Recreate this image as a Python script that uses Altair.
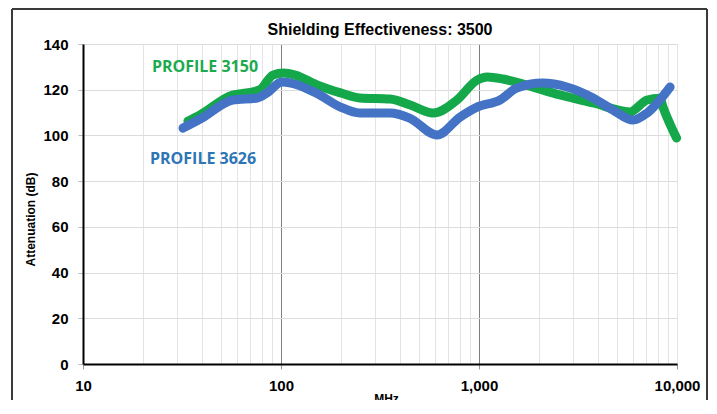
import altair as alt
import pandas as pd

# PROFILE 3150 (green)
g_freq = [33.9, 39, 57, 67, 78, 91, 103, 118, 153, 200, 250, 355, 450, 586, 774, 977, 1100, 1320, 1740, 2560, 3770, 5790, 7060, 8200, 8490, 9440, 9950]
g_db = [106.3, 109, 117.7, 118.6, 119.9, 126.4, 127.3, 126.4, 122, 118.6, 116.4, 115.9, 113.3, 109.8, 115.5, 124.2, 125.6, 124.7, 122, 117.7, 114.2, 110.3, 115.5, 116.3, 112.5, 103, 98.9]

# PROFILE 3626 (blue)
b_freq = [32, 39.9, 57, 76, 85, 101, 150, 200, 250, 355, 446, 614, 801, 977, 1277, 1550, 2100, 2780, 3770, 4750, 6000, 7060, 9230]
b_db = [103.2, 107.6, 115.5, 116.4, 118.6, 123.4, 118.6, 112.4, 109.8, 109.8, 107.6, 100.2, 108, 112.4, 115.5, 120.7, 122.9, 121.2, 116.4, 111.1, 106.7, 109.8, 121.2]

ann_label = ["PROFILE 3150", "PROFILE 3626"]
ann_freq = [41.3, 40.4]
ann_db = [129.9, 89.5]
ann_color = ["#1DAA4E", "#2E75B6"]

decades = [10, 100, 1000]
mults = [1, 2, 3, 4, 5, 6, 7, 8, 9]
x_ticks = [d * m for d in decades for m in mults] + [10000]

green = pd.DataFrame({"freq": g_freq, "db": g_db})
blue = pd.DataFrame({"freq": b_freq, "db": b_db})
ann = pd.DataFrame({"label": ann_label, "freq": ann_freq, "db": ann_db, "color": ann_color})

FONT = "Liberation Sans"

x_enc = alt.X(
    "freq:Q",
    scale=alt.Scale(type="log", domain=[10, 10000]),
    axis=alt.Axis(
        values=x_ticks,
        labelExpr="(datum.value == 10 || datum.value == 100 || datum.value == 1000 || datum.value == 10000) ? format(datum.value, ',') : ''",
        labelFont=FONT, labelFontSize=15, labelFontWeight="bold", labelColor="#000000",
        labelPadding=9, labelFlush=False, labelOverlap=False,
        domainColor="#000000", domainWidth=2,
        tickSize=5, tickColor="#999999",
        tickOpacity={"condition": {"test": "datum.value == 10 || datum.value == 100 || datum.value == 1000 || datum.value == 10000", "value": 1}, "value": 0},
        gridColor={"condition": {"test": "datum.value == 100 || datum.value == 1000", "value": "#7f7f7f"}, "value": "#e4e4e4"},
        gridWidth=1,
        title="MHz", titleFont=FONT, titleFontSize=12, titleFontWeight="bold", titleColor="#000000",
        titleX=303, titleY=29, titleBaseline="top", titleAlign="center",
    ),
)
y_enc = alt.Y(
    "db:Q",
    scale=alt.Scale(domain=[0, 140]),
    axis=alt.Axis(
        values=[0, 20, 40, 60, 80, 100, 120, 140],
        labelFont=FONT, labelFontSize=15, labelFontWeight="bold", labelColor="#000000",
        labelPadding=10,
        domainColor="#000000", domainWidth=2,
        tickSize=5, tickColor="#bbbbbb",
        gridColor="#dcdcdc", gridWidth=1,
        title="Attenuation (dB)", titleFont=FONT, titleFontSize=12, titleFontWeight="bold", titleColor="#000000",
        titleX=-53, titleY=175, titleAlign="center", titleBaseline="middle", titleAngle=270,
    ),
)

FRAME = dict(color="#3a3a3a", strokeWidth=2)
dummy = pd.DataFrame({"a": [0]})
frame_left = alt.Chart(dummy).mark_rule(**FRAME).encode(
    x=alt.value(-71), y=alt.value(-35), y2=alt.value(380))
frame_right = alt.Chart(dummy).mark_rule(**FRAME).encode(
    x=alt.value(624), y=alt.value(-35), y2=alt.value(380))
frame_top = alt.Chart(dummy).mark_rule(**FRAME).encode(
    x=alt.value(-71), x2=alt.value(624), y=alt.value(-35))

g_line = alt.Chart(green).mark_line(
    interpolate="monotone", strokeWidth=9, strokeCap="round", strokeJoin="round", color="#14A84A"
).encode(x=x_enc, y=y_enc)

b_line = alt.Chart(blue).mark_line(
    interpolate="monotone", strokeWidth=9, strokeCap="round", strokeJoin="round", color="#4472C4"
).encode(x="freq:Q", y="db:Q")

texts = alt.Chart(ann).mark_text(
    font="Open Sans", fontSize=16, fontWeight="bold", align="center", baseline="middle"
).encode(
    x="freq:Q", y="db:Q", text="label:N", color=alt.Color("color:N", scale=None)
)

chart = alt.layer(g_line, b_line, texts, frame_left, frame_right, frame_top).properties(
    width=594,
    height=320,
    title=alt.TitleParams(
        "Shielding Effectiveness: 3500", font=FONT, fontSize=16, fontWeight="bold",
        color="#000000", anchor="middle", offset=0, dy=46, baseline="bottom",
    ),
    autosize=alt.AutoSizeParams(type="none"),
    padding={"left": 75, "top": 36, "right": 32, "bottom": 36},
).configure_view(
    stroke="#7f7f7f", strokeWidth=1.5
).configure(background="#ffffff")

chart.save("out.html", embed_options={"renderer": "svg", "actions": False})
